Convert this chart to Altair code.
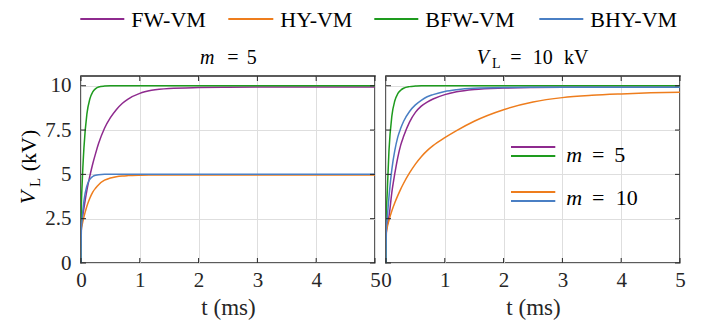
import altair as alt
import pandas as pd

# ---------------- data ----------------
T = [0, 0.005, 0.02, 0.05, 0.1, 0.15, 0.2, 0.25, 0.3, 0.4, 0.5, 0.6, 0.7, 0.8,
     1.0, 1.2, 1.5, 2.0, 2.5, 3.0, 3.5, 4.0, 4.5, 5.0]

# left panel: m = 5
FW_M5 = [0, 2.0, 2.45, 3.1, 4.1, 4.9, 5.6, 6.2, 6.75, 7.6, 8.2, 8.65, 9.0, 9.25,
         9.57, 9.74, 9.85, 9.9, 9.92, 9.93, 9.93, 9.93, 9.93, 9.93]
HY_M5 = [0, 1.85, 2.15, 2.6, 3.2, 3.65, 4.0, 4.23, 4.42, 4.67, 4.8, 4.87, 4.91, 4.93,
         4.95, 4.96, 4.97, 4.97, 4.97, 4.97, 4.97, 4.97, 4.97, 4.97]
BFW_M5 = [0, 3.0, 4.5, 6.5, 8.4, 9.25, 9.65, 9.84, 9.93, 9.98, 10, 10, 10, 10,
          10, 10, 10, 10, 10, 10, 10, 10, 10, 10]
BHY_M5 = [0, 1.8, 2.5, 3.5, 4.35, 4.72, 4.88, 4.95, 4.98, 5.0, 5.0, 5.0, 5.0, 5.0,
          5.0, 5.0, 5.0, 5.0, 5.0, 5.0, 5.0, 5.0, 5.0, 5.0]

# right panel: V_L = 10 kV
FW_10 = [0, 1.7, 2.1, 2.6, 4.0, 5.05, 5.95, 6.65, 7.15, 7.95, 8.5, 8.85, 9.08, 9.25,
         9.5, 9.66, 9.79, 9.87, 9.9, 9.91, 9.91, 9.91, 9.91, 9.91]
HY_10 = [0, 1.7, 2.0, 2.4, 2.95, 3.4, 3.8, 4.17, 4.5, 5.08, 5.58, 6.0, 6.34, 6.62,
         7.07, 7.47, 8.0, 8.65, 9.08, 9.33, 9.46, 9.54, 9.6, 9.64]
BFW_10 = [0, 2.6, 3.9, 6.3, 8.3, 9.15, 9.55, 9.75, 9.86, 9.95, 9.98, 10, 10, 10,
          10, 10, 10, 10, 10, 10, 10, 10, 10, 10]
BHY_10 = [0, 1.9, 2.5, 3.7, 5.3, 6.35, 7.1, 7.6, 8.0, 8.55, 8.92, 9.18, 9.38, 9.5,
          9.68, 9.78, 9.86, 9.9, 9.91, 9.91, 9.91, 9.91, 9.91, 9.91]

SERIES = ["FW-VM", "HY-VM", "BFW-VM", "BHY-VM"]
COLORS = ["#8E2A8E", "#EE7D1D", "#1E9B1E", "#4A7FC4"]
XTICKS = [0, 1, 2, 3, 4, 5]
YTICKS = [0, 2.5, 5, 7.5, 10]

# ---------------- style ----------------
FONT = "Liberation Serif"
INK = "#262626"
W, H = 294, 187
YMAX = 10.55
ONE = pd.DataFrame({"a": [0]})


def frame(vals):
    return pd.DataFrame({"t": T, "v": vals})


def text(txt, x, y, size=20, style="normal", align="center", baseline="alphabetic", angle=0):
    return alt.Chart(ONE).mark_text(
        text=txt, font=FONT, fontSize=size, fontStyle=style, align=align,
        baseline=baseline, angle=angle, color="black"
    ).encode(x=alt.value(x), y=alt.value(y))


def hline(x1, x2, y, color):
    return alt.Chart(ONE).mark_rule(color=color, strokeWidth=2).encode(
        x=alt.value(x1), x2=alt.value(x2), y=alt.value(y))


def panel(series_vals, show_y):
    xs = alt.Scale(domain=[0, 5], nice=False, zero=False)
    ys = alt.Scale(domain=[0, YMAX], nice=False)
    xaxis = alt.Axis(values=XTICKS, title="t (ms)", grid=True, labelFlush=False,
                     labelOverlap=False, labelPadding=6, titlePadding=6,
                     labelExpr="toString(datum.value)")
    if show_y:
        yaxis = alt.Axis(values=YTICKS, title=None, grid=True,
                         labelExpr="toString(datum.value)",
                         labelPadding=10, labelOverlap=False, labelFlush=False)
    else:
        yaxis = alt.Axis(values=YTICKS, title=None, grid=True, labels=False)
    layers = []
    for i, (name, vals) in enumerate(zip(SERIES, series_vals)):
        enc = dict(
            x=alt.X("t:Q", scale=xs, axis=xaxis if i == 0 else alt.Undefined),
            y=alt.Y("v:Q", scale=ys, axis=yaxis if i == 0 else alt.Undefined),
        )
        layers.append(
            alt.Chart(frame(vals)).mark_line(
                color=COLORS[i], strokeWidth=1.5, interpolate="monotone", clip=True
            ).encode(**enc)
        )
    # inward ticks (box style)
    xt = pd.DataFrame({"t": XTICKS})
    yt = pd.DataFrame({"v": YTICKS})
    tick = dict(color=INK, strokeWidth=1)
    layers += [
        alt.Chart(xt).mark_rule(**tick).encode(x="t:Q", y=alt.value(H), y2=alt.value(H - 5)),
        alt.Chart(xt).mark_rule(**tick).encode(x="t:Q", y=alt.value(0), y2=alt.value(5)),
        alt.Chart(yt).mark_rule(**tick).encode(y="v:Q", x=alt.value(0), x2=alt.value(5)),
        alt.Chart(yt).mark_rule(**tick).encode(y="v:Q", x=alt.value(W), x2=alt.value(W - 5)),
    ]
    return layers


# ---------------- left panel ----------------
left_layers = panel([FW_M5, HY_M5, BFW_M5, BHY_M5], True)
# title  m = 5
left_layers += [
    text("m", 126.3, -12, 20, "italic"),
    text("=", 151.8, -12, 20),
    text("5", 170.8, -12, 20),
]
# y title  V_L (kV)
left_layers += [
    text("V", -52.7, 121.5, 22, "italic", baseline="middle", angle=270),
    text("L", -45.7, 106.5, 15, baseline="middle", angle=270),
    text("(kV)", -51.7, 74.5, 22, baseline="middle", angle=270),
]
# top legend
LEG_X = [(-0.7, 43.3, 50.3), (147.3, 192.3, 199.3), (293.3, 337.3, 344.3), (458.3, 502.3, 509.3)]
for (x1, x2, xt_), name, col in zip(LEG_X, SERIES, COLORS):
    left_layers += [hline(x1, x2, -57, col),
                    text(name, xt_, -56, 22, align="left", baseline="middle")]

left = alt.layer(*left_layers).properties(width=W, height=H)

# ---------------- right panel ----------------
right_layers = panel([FW_10, HY_10, BFW_10, BHY_10], False)
right_layers += [
    text("V", 96.8, -12, 20, "italic"),
    text("L", 110.3, -8, 14),
    text("=", 129.8, -12, 20),
    text("10", 156.8, -12, 20),
    text("kV", 190.3, -12, 20),
]
# inner legend
right_layers += [
    hline(125, 169.3, 71, COLORS[0]),
    hline(125, 169.3, 80, COLORS[2]),
    text("m", 188.3, 85.7, 22, "italic"),
    text("=", 212.3, 85.7, 22),
    text("5", 233.8, 85.7, 22),
    hline(125, 169.3, 116, COLORS[1]),
    hline(125, 169.3, 125, COLORS[3]),
    text("m", 188.3, 129, 22, "italic"),
    text("=", 212.3, 129, 22),
    text("10", 240.8, 129, 22),
]
right = alt.layer(*right_layers).properties(width=W, height=H)

chart = (
    alt.hconcat(left, right, spacing=11, bounds="flush")
    .properties(padding={"left": 8, "top": 0, "right": 0, "bottom": 0}, background="white")
    .configure_view(stroke=INK, strokeWidth=1.5)
    .configure_axis(
        labelFont=FONT, labelFontSize=21, labelColor=INK,
        titleFont=FONT, titleFontSize=23, titleColor=INK, titleFontWeight="normal",
        domain=False, ticks=False, tickSize=0,
        gridColor="#dedede", gridWidth=1,
    )
)

chart.save("out.html", embed_options={"renderer": "svg", "actions": False})
